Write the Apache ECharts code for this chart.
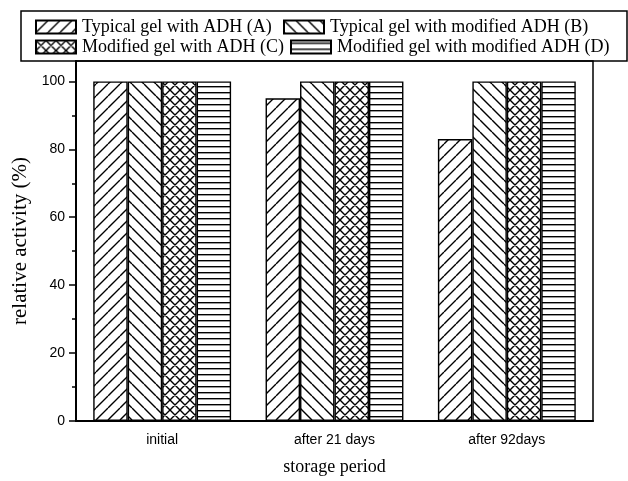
<!DOCTYPE html>
<html>
<head>
<meta charset="utf-8">
<script src="https://cdn.jsdelivr.net/npm/echarts@6/dist/echarts.min.js"></script>
<style>
html,body{margin:0;padding:0;background:#fff;}
#chart{width:628px;height:481px;}
</style>
</head>
<body>
<div id="chart"></div>
<script>
const categories = ['initial', 'after 21 days', 'after 92days'];
const seriesNames = [
  'Typical gel with ADH (A)',
  'Typical gel with modified ADH (B)',
  'Modified gel with ADH (C)',
  'Modified gel with modified ADH (D)'
];
const valuesA = [100, 95, 83];
const valuesB = [100, 100, 100];
const valuesC = [100, 100, 100];
const valuesD = [100, 100, 100];
const yTicks = [0, 20, 40, 60, 80, 100];
const yMinorTicks = [10, 30, 50, 70, 90];

function makePattern(kind) {
  const c = document.createElement('canvas');
  let s = 12;
  if (kind === 'cross') s = 10;
  if (kind === 'horiz') s = 6;
  c.width = s; c.height = s;
  const ctx = c.getContext('2d');
  ctx.fillStyle = '#fff';
  ctx.fillRect(0, 0, s, s);
  ctx.strokeStyle = '#000';
  ctx.lineWidth = 1.4;
  ctx.beginPath();
  if (kind === 'fwd' || kind === 'cross') {
    for (let k = -1; k <= 1; k++) {
      ctx.moveTo(k * s, s);
      ctx.lineTo(k * s + s, 0);
    }
  }
  if (kind === 'back' || kind === 'cross') {
    for (let k = -1; k <= 1; k++) {
      ctx.moveTo(k * s, 0);
      ctx.lineTo(k * s + s, s);
    }
  }
  ctx.stroke();
  if (kind === 'horiz') {
    ctx.fillStyle = '#000';
    ctx.fillRect(0, 2, s, 1.4);
  }
  return { image: c, repeat: 'repeat' };
}

const patterns = [makePattern('fwd'), makePattern('back'), makePattern('cross'), makePattern('horiz')];
const allValues = [valuesA, valuesB, valuesC, valuesD];

const chart = echarts.init(document.getElementById('chart'), null, { renderer: 'canvas' });

const legendPos = [
  { left: 35, top: 18 },
  { left: 283, top: 18 },
  { left: 35, top: 38 },
  { left: 290, top: 38 }
];

const option = {
  animation: false,
  backgroundColor: '#fff',
  grid: {
    left: 76, right: 35, top: 61, bottom: 48,
    show: true, borderColor: '#000', borderWidth: 1.5, backgroundColor: 'transparent'
  },
  legend: seriesNames.map((n, i) => ({
    data: [n],
    left: legendPos[i].left,
    top: legendPos[i].top,
    padding: 0,
    itemWidth: 40,
    itemHeight: 13,
    itemGap: 5,
    icon: 'rect',
    selectedMode: false,
    textStyle: { fontFamily: 'Liberation Serif', fontSize: 18, color: '#000', padding: [0, 0, 0, 1] }
  })),
  graphic: [{
    type: 'rect',
    shape: { x: 21, y: 11, width: 606, height: 50 },
    style: { fill: 'none', stroke: '#000', lineWidth: 1.5 },
    z: -1
  }],
  xAxis: {
    type: 'category',
    data: categories,
    axisLine: { lineStyle: { color: '#000', width: 2 } },
    axisTick: { alignWithLabel: true, length: 7, lineStyle: { color: '#000', width: 1.5 } },
    axisLabel: { fontFamily: 'Liberation Sans', fontSize: 14, color: '#000', margin: 12 },
    name: 'storage period',
    nameLocation: 'middle',
    nameGap: 37,
    nameTextStyle: { fontFamily: 'Liberation Serif', fontSize: 18, color: '#000' }
  },
  yAxis: [{
    type: 'value',
    min: 0, max: 106, interval: 20,
    position: 'left',
    axisLine: { show: true, lineStyle: { color: '#000', width: 2 } },
    axisTick: { show: true, length: 7, customValues: yTicks, lineStyle: { color: '#000', width: 1.5 } },
    axisLabel: { customValues: yTicks, fontFamily: 'Liberation Sans', fontSize: 14, color: '#000', margin: 11 },
    splitLine: { show: false },
    name: 'relative activity (%)',
    nameLocation: 'middle',
    nameGap: 42,
    nameTextStyle: { fontFamily: 'Liberation Serif', fontSize: 21, color: '#000' }
  }, {
    type: 'value',
    min: 0, max: 106, interval: 10,
    position: 'left',
    offset: 0,
    axisLine: { show: false },
    axisTick: { show: true, length: 4, customValues: yMinorTicks, lineStyle: { color: '#000', width: 1.5 } },
    axisLabel: { show: false },
    splitLine: { show: false }
  }],
  series: seriesNames.map((n, i) => ({
    name: n,
    type: 'bar',
    yAxisIndex: 0,
    data: allValues[i],
    barGap: '0%',
    barCategoryGap: '20%',
    itemStyle: { color: patterns[i], borderColor: '#000', borderWidth: 1.4 }
  }))
};
chart.setOption(option);
</script>
</body>
</html>
